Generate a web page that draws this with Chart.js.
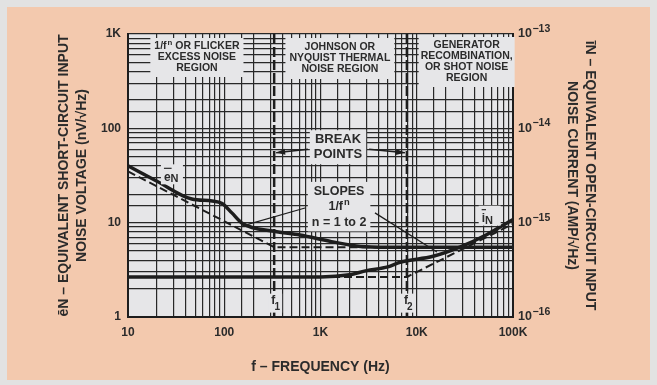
<!DOCTYPE html>
<html>
<head>
<meta charset="utf-8">
<script src="https://cdn.jsdelivr.net/npm/chart.js@4.4.1/dist/chart.umd.min.js"></script>
<style>
html, body { margin: 0; padding: 0; background: #e2e2e2; }
#wrap { width: 657px; height: 385px; }
</style>
</head>
<body>
<div id="wrap"><canvas id="noise-chart" width="657" height="385"></canvas></div>
<script>
// values (frequency in Hz)
var enFreq = [10, 20, 46, 75, 95, 120, 155, 330, 610, 1300, 2600, 5000, 100000];
var enVolt = [40, 27.5, 17.8, 17, 16, 12.7, 9.8, 8.1, 7.4, 6.3, 5.6, 5.5, 5.5];     // nV/rtHz

var inFreq = [10, 1000, 2000, 3000, 5000, 6700, 14800, 28000, 53700, 100000];
var inAmp = [2.66e-16, 2.66e-16, 2.8e-16, 3.1e-16, 3.4e-16, 3.8e-16, 4.4e-16, 5.5e-16, 7.5e-16, 1.08e-15]; // A/rtHz

// asymptotes (dashed)
var enAsymFreq = [10, 330, 100000];
var enAsymVolt = [35, 5.5, 5.5];
var inAsymFreq = [10, 7900, 100000];
var inAsymAmp = [2.66e-16, 2.66e-16, 9.7e-16];

// break points f1, f2
var breakFreq = [330, 7900];

// leader lines from the "SLOPES" note
var slopeLeftFreq = [152, 690];
var slopeLeftVolt = [9.2, 14.3];
var slopeRightFreq = [3680, 16200];
var slopeRightVolt = [12.7, 4.9];

var freqTickLabels = { 1: "10", 2: "100", 3: "1K", 4: "10K", 5: "100K" };
var voltTickLabels = { 0: "1", 1: "10", 2: "100", 3: "1K" };
var ampExponents = [-16, -15, -14, -13];

var ink = "#1d1d1d";
var textInk = "#2b2b2b";
var plotBg = "#e6e6e8";
var fam = "'Liberation Sans', Arial, sans-serif";

function pts(xs, ys) {
    return xs.map(function (x, i) { return { x: x, y: ys[i] }; });
}
function decade(v) {
    var l = Math.log10(v);
    var r = Math.round(l);
    return Math.abs(l - r) < 1e-6 ? r : null;
}

// text between two "^" is drawn as a superscript
function runs(t) {
    return t.split("^").map(function (s, i) { return { text: s, sup: i % 2 === 1 }; });
}
function runFont(size, sup) {
    return "bold " + (sup ? size * 0.75 : size) + "px " + fam;
}
function lineWidth(ctx, t, size) {
    var w = 0;
    runs(t).forEach(function (r) {
        ctx.font = runFont(size, r.sup);
        w += ctx.measureText(r.text).width + (r.sup ? 1 : 0);
    });
    return w;
}

function textBox(ctx, cx, top, lines, size, lineH, padX, padBottom) {
    var w = 0;
    lines.forEach(function (t) { w = Math.max(w, lineWidth(ctx, t, size)); });
    var h = lineH * lines.length + padBottom;
    ctx.fillStyle = plotBg;
    ctx.fillRect(cx - w / 2 - padX, top, w + padX * 2, h);
    ctx.fillStyle = textInk;
    ctx.textAlign = "left";
    ctx.textBaseline = "middle";
    lines.forEach(function (t, i) {
        var ty = top + lineH * (i + 0.5) + padBottom / 2;
        var tx = cx - lineWidth(ctx, t, size) / 2;
        runs(t).forEach(function (r) {
            ctx.font = runFont(size, r.sup);
            if (r.sup) tx += 1;
            ctx.fillText(r.text, tx, r.sup ? ty - size * 0.35 : ty);
            tx += ctx.measureText(r.text).width;
        });
    });
}

function arrow(ctx, x0, y0, x1, y1) {
    ctx.strokeStyle = ink;
    ctx.lineWidth = 1.5;
    ctx.beginPath(); ctx.moveTo(x0, y0); ctx.lineTo(x1, y1); ctx.stroke();
    var a = Math.atan2(y1 - y0, x1 - x0);
    ctx.fillStyle = ink;
    ctx.beginPath();
    ctx.moveTo(x1, y1);
    ctx.lineTo(x1 - 9 * Math.cos(a) + 3 * Math.sin(a), y1 - 9 * Math.sin(a) - 3 * Math.cos(a));
    ctx.lineTo(x1 - 9 * Math.cos(a) - 3 * Math.sin(a), y1 - 9 * Math.sin(a) + 3 * Math.cos(a));
    ctx.closePath(); ctx.fill();
}

var paperPlugin = {
    id: "paper",
    beforeDraw: function (chart) {
        var ctx = chart.ctx, a = chart.chartArea;
        ctx.save();
        ctx.fillStyle = "#e2e2e2";
        ctx.fillRect(0, 0, chart.width, chart.height);
        ctx.fillStyle = "#f3c9ae";
        ctx.fillRect(7, 7, 643, 373);
        ctx.fillStyle = plotBg;
        ctx.fillRect(a.left, a.top, a.right - a.left, a.bottom - a.top);
        ctx.restore();
    },
    beforeDatasetsDraw: function (chart) {
        var ctx = chart.ctx, a = chart.chartArea, x = chart.scales.x, y = chart.scales.y;
        ctx.save();
        // region notes along the top
        textBox(ctx, x.getPixelForValue(52), a.top + 4, ["1/f^n^ OR FLICKER", "EXCESS NOISE", "REGION"], 10.5, 11, 4, 6);
        textBox(ctx, x.getPixelForValue(1590), a.top + 4, ["JOHNSON OR", "NYQUIST THERMAL", "NOISE REGION"], 10.5, 11, 4, 8);
        textBox(ctx, x.getPixelForValue(33000), a.top + 3, ["GENERATOR", "RECOMBINATION,", "OR SHOT NOISE", "REGION"], 10.5, 11, 2, 6);
        // break points / slopes notes
        var bp = y.getPixelForValue(63);
        textBox(ctx, x.getPixelForValue(1520), bp - 17, ["BREAK", "POINTS"], 13, 15, 4, 4);
        var sl = y.getPixelForValue(14.7);
        textBox(ctx, x.getPixelForValue(1560), sl - 25, ["SLOPES", "1/f^n^", "n = 1 to 2"], 12.5, 15.5, 4, 3);
        ctx.restore();
    },
    afterDatasetsDraw: function (chart) {
        var ctx = chart.ctx, x = chart.scales.x, y = chart.scales.y;
        ctx.save();
        // arrows to the break-point lines
        arrow(ctx, x.getPixelForValue(740), y.getPixelForValue(60), x.getPixelForValue(breakFreq[0]) + 2, y.getPixelForValue(55));
        arrow(ctx, x.getPixelForValue(3200), y.getPixelForValue(60), x.getPixelForValue(breakFreq[1]) - 2, y.getPixelForValue(55));
        // f1 / f2 labels
        ctx.textBaseline = "middle";
        ctx.textAlign = "center";
        [["f", "1"], ["f", "2"]].forEach(function (lab, i) {
            var px = x.getPixelForValue(breakFreq[i]) + 1, py = y.getPixelForValue(1.42);
            ctx.fillStyle = plotBg;
            ctx.fillRect(px - 7, py - 9, 14, 19);
            ctx.fillStyle = textInk;
            ctx.font = "bold 12px " + fam;
            ctx.fillText(lab[0], px - 2, py - 2);
            ctx.font = "bold 10px " + fam;
            ctx.fillText(lab[1], px + 2, py + 5);
        });
        // curve names
        function curveName(letter, px, py) {
            ctx.fillStyle = plotBg;
            ctx.fillRect(px - 7, py - 12, 22, 20);
            ctx.fillStyle = textInk;
            ctx.font = "bold 12px " + fam;
            ctx.textAlign = "left";
            ctx.fillText(letter, px - 4, py + 1);
            var lw = ctx.measureText(letter).width;
            ctx.font = "bold 11px " + fam;
            ctx.fillText("N", px - 4 + lw, py + 3);
            ctx.strokeStyle = textInk;
            ctx.lineWidth = 1.2;
            ctx.beginPath(); ctx.moveTo(px - 4, py - 8); ctx.lineTo(px - 4 + lw + 1, py - 8); ctx.stroke();
        }
        curveName("e", x.getPixelForValue(26), y.getPixelForValue(31));
        curveName("i", x.getPixelForValue(52000), y.getPixelForValue(11.3));
        ctx.restore();
    },
    afterDraw: function (chart) {
        // exponents on the right-hand axis labels ("10" is the tick label)
        var ctx = chart.ctx, s = chart.scales.y2, a = chart.chartArea;
        ctx.save();
        ctx.font = "bold 12.5px " + fam;
        var w = ctx.measureText("10").width;
        ctx.font = "bold 10.5px " + fam;
        ctx.fillStyle = textInk;
        ctx.textAlign = "left";
        ctx.textBaseline = "middle";
        ampExponents.forEach(function (e) {
            var py = s.getPixelForValue(Math.pow(10, e));
            ctx.fillText("\u2212" + Math.abs(e), a.right + 5 + w + 0.5, py - 5);
        });
        ctx.restore();
    }
};

var tickFont = { family: fam, size: 12, weight: "bold" };
var titleFont = { family: fam, size: 14, weight: "bold", lineHeight: 1.3 };

var thick = { borderColor: ink, borderWidth: 3.5, pointRadius: 0, fill: false, cubicInterpolationMode: "monotone" };
var dashed = { borderColor: ink, borderWidth: 2, borderDash: [8, 4], pointRadius: 0, fill: false, tension: 0 };
var thin = { borderColor: ink, borderWidth: 1.2, pointRadius: 0, fill: false, tension: 0 };

var chartData = {
    datasets: [
        Object.assign({ label: "eN", data: pts(enFreq, enVolt), yAxisID: "y" }, thick),
        Object.assign({ label: "iN", data: pts(inFreq, inAmp), yAxisID: "y2" }, thick),
        Object.assign({ label: "eN asymptote", data: pts(enAsymFreq, enAsymVolt), yAxisID: "y" }, dashed),
        Object.assign({ label: "iN asymptote", data: pts(inAsymFreq, inAsymAmp), yAxisID: "y2" }, dashed),
        Object.assign({ label: "f1", data: pts([breakFreq[0], breakFreq[0]], [1, 1000]), yAxisID: "y" }, dashed, { borderWidth: 2.5, borderDash: [10, 3] }),
        Object.assign({ label: "f2", data: pts([breakFreq[1], breakFreq[1]], [1, 1000]), yAxisID: "y" }, dashed, { borderWidth: 2.5, borderDash: [10, 3] }),
        Object.assign({ label: "slope L", data: pts(slopeLeftFreq, slopeLeftVolt), yAxisID: "y" }, thin),
        Object.assign({ label: "slope R", data: pts(slopeRightFreq, slopeRightVolt), yAxisID: "y" }, thin)
    ]
};

var gridStyle = { color: "#282828", lineWidth: 1.2, drawTicks: false };

var chartOptions = {
    responsive: false,
    animation: false,
    layout: { padding: { top: 34, left: 0, right: 0, bottom: 0 } },
    plugins: { legend: { display: false }, tooltip: { enabled: false } },
    scales: {
        x: {
            type: "logarithmic", min: 10, max: 100000,
            grid: gridStyle,
            border: { color: ink, width: 2 },
            ticks: {
                autoSkip: false, maxRotation: 0, padding: 8, font: tickFont, color: textInk,
                callback: function (v) { var d = decade(v); return d === null ? "" : (freqTickLabels[d] || ""); }
            },
            title: { display: true, text: "f \u2013 FREQUENCY (Hz)", font: titleFont, color: textInk, padding: { top: 0, bottom: 9 } },
            afterFit: function (s) { s.height = 68; }
        },
        y: {
            type: "logarithmic", position: "left", min: 1, max: 1000,
            grid: gridStyle,
            border: { color: ink, width: 2 },
            ticks: {
                autoSkip: false, padding: 7, font: tickFont, color: textInk,
                callback: function (v) { var d = decade(v); return d === null ? "" : (voltTickLabels[d] || ""); }
            },
            title: {
                display: true, font: titleFont, color: textInk, padding: { top: 55, bottom: 0 },
                text: ["\u0113N \u2013 EQUIVALENT SHORT-CIRCUIT INPUT", "NOISE VOLTAGE (nV/\u221AHz)"]
            },
            afterFit: function (s) { s.width = 128; }
        },
        y2: {
            type: "logarithmic", position: "right", min: 1e-16, max: 1e-13,
            grid: { drawOnChartArea: false, drawTicks: false },
            border: { color: ink, width: 2 },
            ticks: {
                autoSkip: false, padding: 5, font: { family: fam, size: 12.5, weight: "bold" }, color: textInk,
                callback: function (v) { var d = decade(v); return d === null ? "" : "10"; }
            },
            title: {
                display: true, font: titleFont, color: textInk, padding: { top: 58, bottom: 0 },
                text: ["\u012BN \u2013 EQUIVALENT OPEN-CIRCUIT INPUT", "NOISE CURRENT (AMP/\u221AHz)"]
            },
            afterFit: function (s) { s.width = 144; }
        }
    }
};

var ctx = document.getElementById("noise-chart");
var noiseChart = new Chart(ctx, {
    type: "line",
    data: chartData,
    options: chartOptions,
    plugins: [paperPlugin]
});
</script>
</body>
</html>
